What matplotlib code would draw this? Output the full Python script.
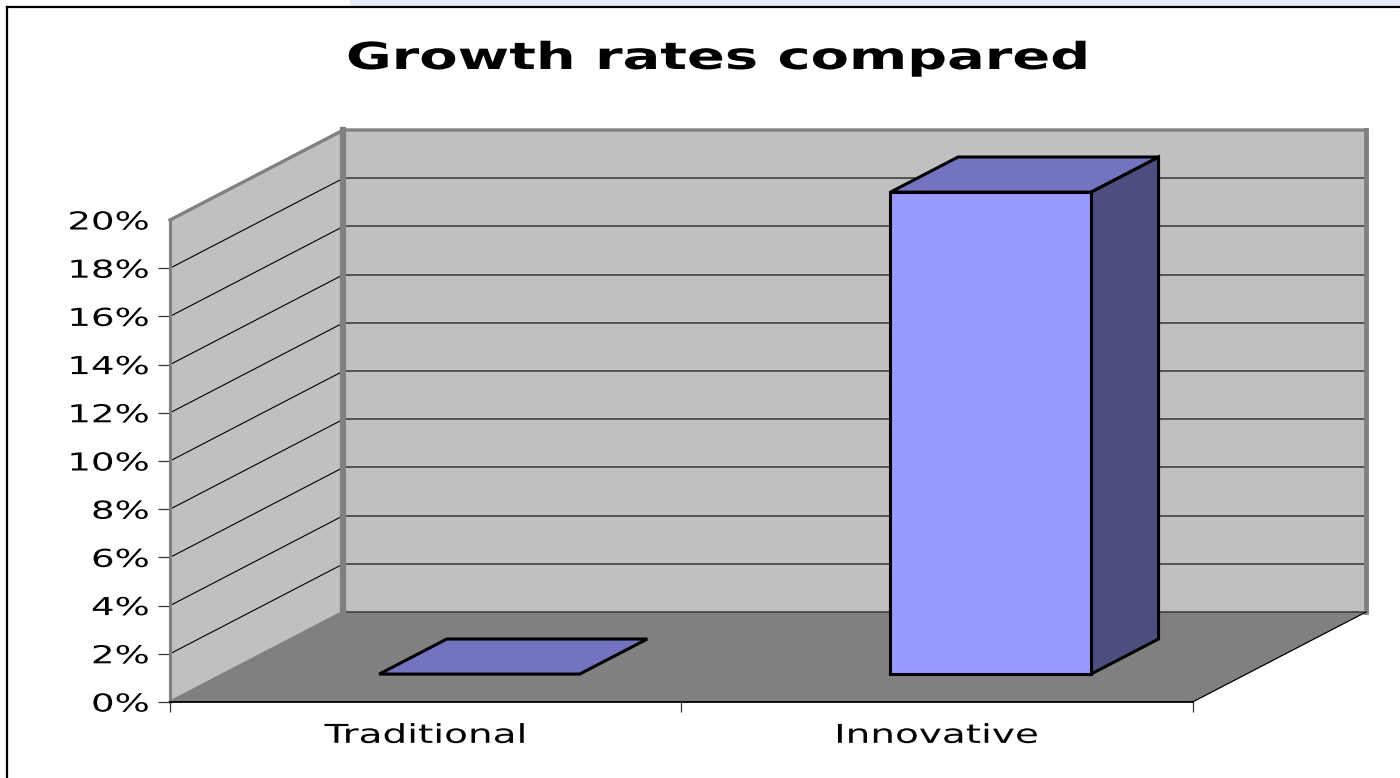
import numpy as np
import matplotlib
matplotlib.use("Agg")
import matplotlib.pyplot as plt
from matplotlib.patches import Polygon, Rectangle
from matplotlib.lines import Line2D
from matplotlib.patheffects import AbstractPathEffect
from matplotlib.transforms import Affine2D

# ---- data ----
categories = ["Traditional", "Innovative"]
growth_rates = [0.00, 0.20]
y_ticks = [0.00, 0.02, 0.04, 0.06, 0.08, 0.10, 0.12, 0.14, 0.16, 0.18, 0.20]
y_tick_labels = ["0%", "2%", "4%", "6%", "8%", "10%", "12%", "14%", "16%", "18%", "20%"]
title = "Growth rates compared"

# ---- 3-D look (oblique projection) ----
y_max = 0.20
depth_dx = 0.3392      # depth shift in category units
depth_dy = 0.03734     # depth shift in value units
bar_width = 0.392
bar_front, bar_back = 0.31, 0.70   # bar depth range as a fraction of the floor depth

wall_color = "#c0c0c0"
floor_color = "#808080"
edge_gray = "#808080"
front_color = "#9999ff"
top_color = "#7373bf"
side_color = "#4d4d80"
text_stretch = 1.5


class StretchX(AbstractPathEffect):
    """Widen glyphs horizontally about the left, centre or right of the ink."""

    def __init__(self, sx, anchor="center"):
        super().__init__()
        self.sx = sx
        self.anchor = anchor

    def draw_path(self, renderer, gc, tpath, affine, rgbFace=None):
        ext = tpath.get_extents(affine)
        if self.anchor == "right":
            cx = ext.x1
        elif self.anchor == "left":
            cx = ext.x0
        else:
            cx = 0.5 * (ext.x0 + ext.x1)
        t = affine + Affine2D().translate(-cx, 0).scale(self.sx, 1).translate(cx, 0)
        renderer.draw_path(gc, tpath, t, rgbFace)


fig = plt.figure(figsize=(14, 7.78), dpi=100)
fig.patch.set_facecolor("white")

# slide background strip and chart frame
fig.add_artist(Rectangle((350 / 1400, 1 - 7 / 778), 1 - 350 / 1400, 7 / 778,
                         transform=fig.transFigure, facecolor="#e6edf5",
                         edgecolor="none", zorder=0))
fig.add_artist(Line2D([7 / 1400, 7 / 1400], [0, 1 - 7 / 778], transform=fig.transFigure,
                      color="black", lw=1.6))
fig.add_artist(Line2D([7 / 1400, 1], [1 - 7 / 778, 1 - 7 / 778], transform=fig.transFigure,
                      color="black", lw=1.6))

n = len(categories)
ax = fig.add_axes([170 / 1400, 76 / 778, 1196 / 1400, 572 / 778])
ax.set_xlim(0, n + depth_dx)
ax.set_ylim(0, y_max + depth_dy)
ax.patch.set_visible(False)


def proj(x, y, d):
    """Map (category position, value, depth fraction) onto the axes plane."""
    return (x + d * depth_dx, y + d * depth_dy)


def poly(points, **kw):
    p = Polygon(points, closed=True, clip_on=False, **kw)
    ax.add_patch(p)
    return p


# walls and floor
poly([proj(0, 0, 0), proj(0, 0, 1), proj(0, y_max, 1), proj(0, y_max, 0)],
     facecolor=wall_color, edgecolor="none", zorder=1)
poly([proj(0, 0, 1), proj(n, 0, 1), proj(n, y_max, 1), proj(0, y_max, 1)],
     facecolor=wall_color, edgecolor="none", zorder=1)
poly([proj(0, 0, 0), proj(n, 0, 0), proj(n, 0, 1), proj(0, 0, 1)],
     facecolor=floor_color, edgecolor="none", zorder=1)

# gridlines on side wall and back wall
for v in y_ticks[:-1]:
    x0, y0 = proj(0, v, 0)
    x1, y1 = proj(0, v, 1)
    x2, y2 = proj(n, v, 1)
    ax.plot([x0, x1], [y0, y1], color="black", lw=0.8, zorder=2, clip_on=False)
    ax.plot([x1, x2], [y1, y2], color="#404040", lw=1.2, zorder=2, clip_on=False)

# wall borders
bx, by = zip(proj(0, y_max, 0), proj(0, y_max, 1), proj(n, y_max, 1))
ax.plot(bx, by, color=edge_gray, lw=2.4, zorder=3, clip_on=False, solid_capstyle="projecting")
bx, by = zip(proj(0, 0, 1), proj(0, y_max, 1))
ax.plot(bx, by, color=edge_gray, lw=4.5, zorder=3, clip_on=False, solid_capstyle="projecting")
bx, by = zip(proj(n, 0, 1), proj(n, y_max, 1))
ax.plot(bx, by, color=edge_gray, lw=3.5, zorder=3, clip_on=False, solid_capstyle="projecting")
bx, by = zip(proj(0, 0, 0), proj(0, 0, 1))
ax.plot(bx, by, color=edge_gray, lw=2.2, zorder=2, clip_on=False)
bx, by = zip(proj(n, 0, 0), proj(n, 0, 1))
ax.plot(bx, by, color="black", lw=0.9, zorder=3, clip_on=False)

# bars
for i, val in enumerate(growth_rates):
    xl = i + 0.5 - bar_width / 2
    xr = i + 0.5 + bar_width / 2
    side = [proj(xr, 0, bar_front), proj(xr, 0, bar_back),
            proj(xr, val, bar_back), proj(xr, val, bar_front)]
    top = [proj(xl, val, bar_front), proj(xr, val, bar_front),
           proj(xr, val, bar_back), proj(xl, val, bar_back)]
    front = [proj(xl, 0, bar_front), proj(xr, 0, bar_front),
             proj(xr, val, bar_front), proj(xl, val, bar_front)]
    kw = dict(edgecolor="black", lw=2.2, joinstyle="miter", zorder=5)
    if val > 0:
        poly(side, facecolor=side_color, **kw)
    poly(top, facecolor=top_color, **kw)
    if val > 0:
        poly(front, facecolor=front_color, **kw)

# axes, ticks and labels
for s in ("top", "right"):
    ax.spines[s].set_visible(False)
ax.spines["left"].set_bounds(0, y_max)
ax.spines["left"].set_color(edge_gray)
ax.spines["left"].set_linewidth(2.2)
ax.spines["left"].set_zorder(4)
ax.spines["bottom"].set_bounds(0, n)
ax.spines["bottom"].set_color("black")
ax.spines["bottom"].set_linewidth(1.3)
ax.spines["bottom"].set_zorder(4)

ax.set_yticks(y_ticks)
ax.set_yticklabels(y_tick_labels)
ax.tick_params(axis="y", direction="out", length=9, width=0.9, color="#333333",
               pad=6, labelsize=17.8)
ax.yaxis.get_major_ticks()[-1].tick1line.set_visible(False)

ax.set_xticks(np.arange(n + 1))
ax.set_xticklabels([""] * (n + 1))
ax.set_xticks(np.arange(n) + 0.5, minor=True)
ax.set_xticklabels(categories, minor=True)
ax.tick_params(axis="x", which="major", direction="out", length=7, width=0.9, color="#333333")
ax.tick_params(axis="x", which="minor", length=0, pad=15, labelsize=18.7)

for lbl in ax.get_yticklabels():
    lbl.set_path_effects([StretchX(text_stretch, "right")])
for lbl in ax.get_xticklabels(minor=True):
    lbl.set_path_effects([StretchX(text_stretch, "center")])

fig.text(718 / 1400, 1 - 69 / 778, title, ha="center", va="baseline",
         fontsize=26.8, fontweight="bold", family="DejaVu Sans",
         path_effects=[StretchX(text_stretch, "center")])

fig.savefig("out.png", dpi=100)
